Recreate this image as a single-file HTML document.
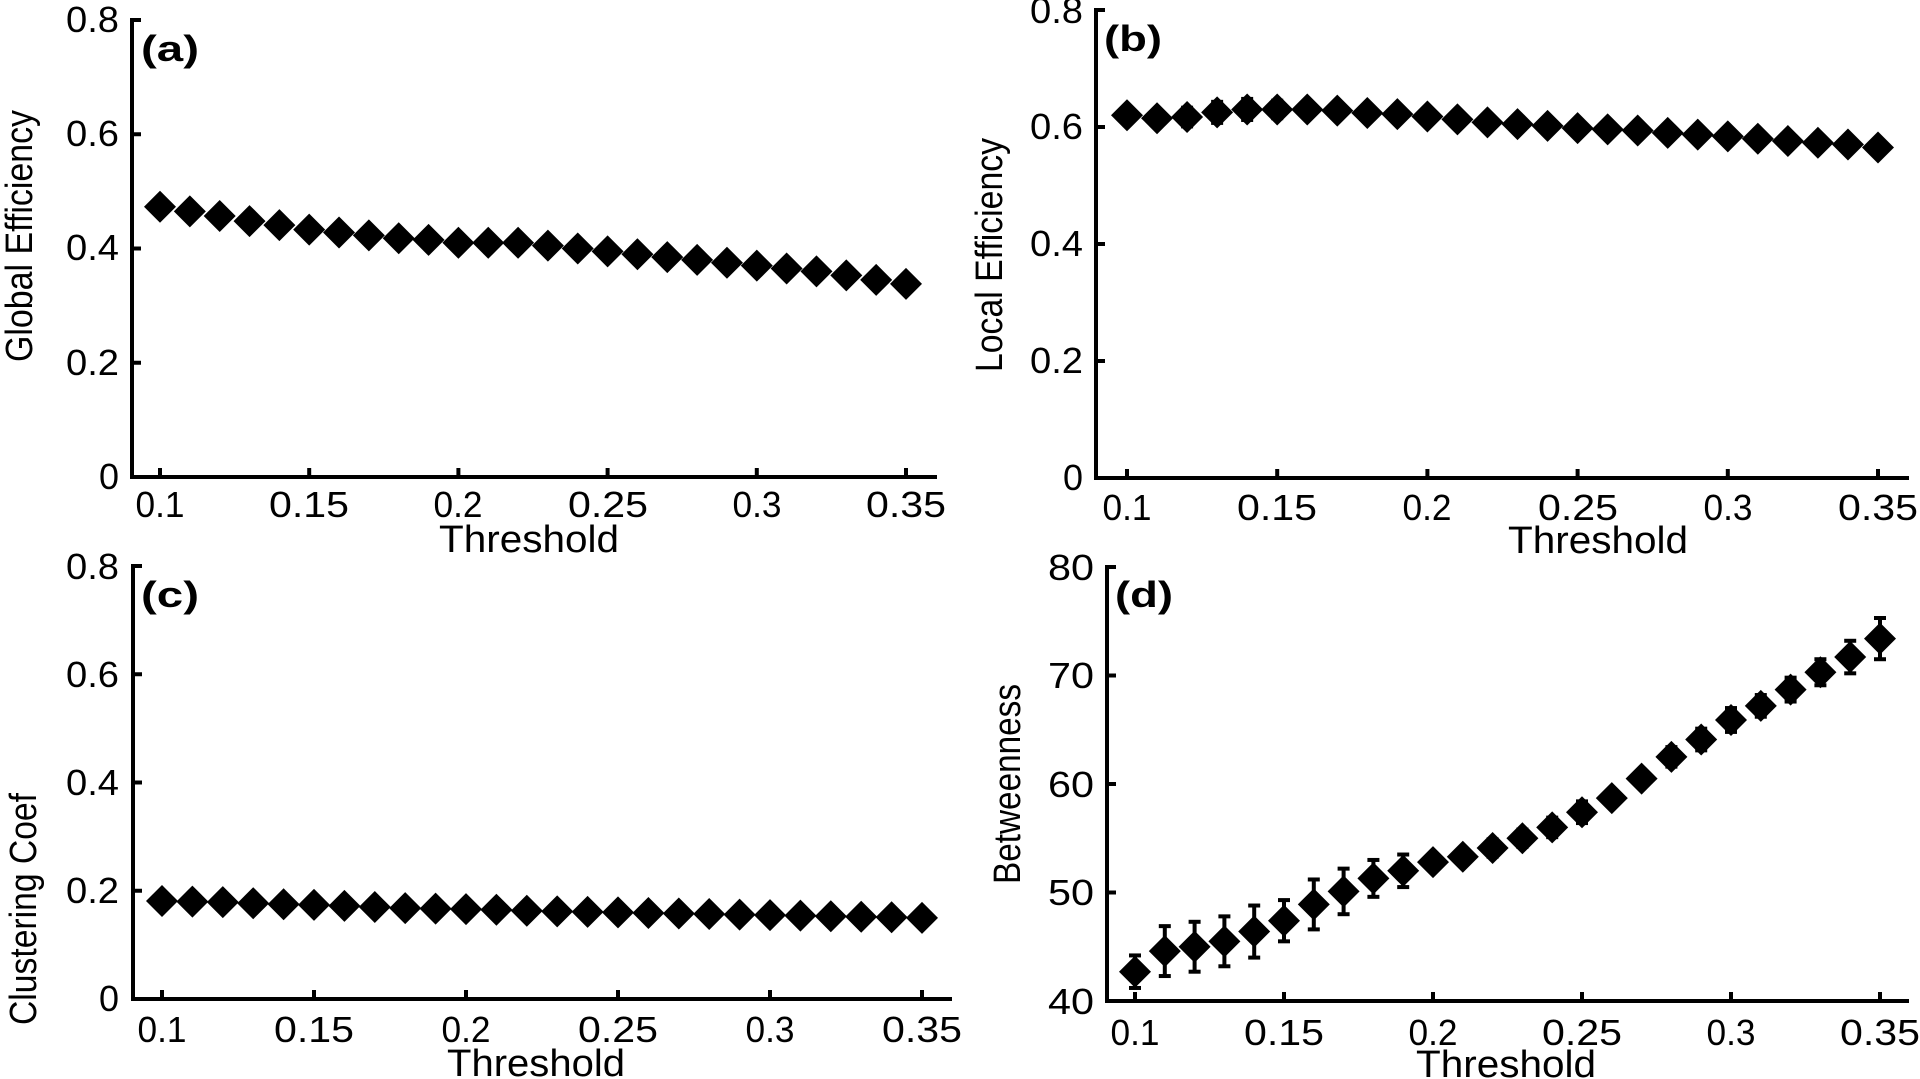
<!DOCTYPE html>
<html><head><meta charset="utf-8"><style>
html,body{margin:0;padding:0;background:#fff;}
svg{display:block;font-family:"Liberation Sans",Arial,sans-serif;}
.t{font-size:36px;}
.l{font-size:38px;}
</style></head><body>
<svg id="s" width="1920" height="1079" viewBox="0 0 1920 1079" xmlns="http://www.w3.org/2000/svg">
<g fill="#000" class="t">
<!-- Panel a -->
<text x="119" y="32" text-anchor="end" textLength="53" lengthAdjust="spacingAndGlyphs">0.8</text>
<text x="119" y="146" text-anchor="end" textLength="53" lengthAdjust="spacingAndGlyphs">0.6</text>
<text x="119" y="260" text-anchor="end" textLength="53" lengthAdjust="spacingAndGlyphs">0.4</text>
<text x="119" y="375" text-anchor="end" textLength="53" lengthAdjust="spacingAndGlyphs">0.2</text>
<text x="119" y="489" text-anchor="end" textLength="20" lengthAdjust="spacingAndGlyphs">0</text>
<text x="160" y="517" text-anchor="middle" textLength="49" lengthAdjust="spacingAndGlyphs">0.1</text>
<text x="309" y="517" text-anchor="middle" textLength="80" lengthAdjust="spacingAndGlyphs">0.15</text>
<text x="458" y="517" text-anchor="middle" textLength="49" lengthAdjust="spacingAndGlyphs">0.2</text>
<text x="608" y="517" text-anchor="middle" textLength="80" lengthAdjust="spacingAndGlyphs">0.25</text>
<text x="757" y="517" text-anchor="middle" textLength="49" lengthAdjust="spacingAndGlyphs">0.3</text>
<text x="906" y="517" text-anchor="middle" textLength="80" lengthAdjust="spacingAndGlyphs">0.35</text>
<text class="l" x="529" y="552" text-anchor="middle" textLength="180" lengthAdjust="spacingAndGlyphs">Threshold</text>
<text class="l" transform="translate(32,236) rotate(-90)" text-anchor="middle" textLength="252" lengthAdjust="spacingAndGlyphs">Global Efficiency</text>
<text x="141" y="61" font-weight="bold" font-size="36" textLength="58" lengthAdjust="spacingAndGlyphs">(a)</text>
<!-- Panel b -->
<text x="1083" y="23" text-anchor="end" textLength="53" lengthAdjust="spacingAndGlyphs">0.8</text>
<text x="1083" y="139" text-anchor="end" textLength="53" lengthAdjust="spacingAndGlyphs">0.6</text>
<text x="1083" y="256" text-anchor="end" textLength="53" lengthAdjust="spacingAndGlyphs">0.4</text>
<text x="1083" y="373" text-anchor="end" textLength="53" lengthAdjust="spacingAndGlyphs">0.2</text>
<text x="1083" y="490" text-anchor="end" textLength="20" lengthAdjust="spacingAndGlyphs">0</text>
<text x="1127" y="520" text-anchor="middle" textLength="49" lengthAdjust="spacingAndGlyphs">0.1</text>
<text x="1277" y="520" text-anchor="middle" textLength="80" lengthAdjust="spacingAndGlyphs">0.15</text>
<text x="1427" y="520" text-anchor="middle" textLength="49" lengthAdjust="spacingAndGlyphs">0.2</text>
<text x="1578" y="520" text-anchor="middle" textLength="80" lengthAdjust="spacingAndGlyphs">0.25</text>
<text x="1728" y="520" text-anchor="middle" textLength="49" lengthAdjust="spacingAndGlyphs">0.3</text>
<text x="1878" y="520" text-anchor="middle" textLength="80" lengthAdjust="spacingAndGlyphs">0.35</text>
<text class="l" x="1598" y="553" text-anchor="middle" textLength="180" lengthAdjust="spacingAndGlyphs">Threshold</text>
<text class="l" transform="translate(1002,255) rotate(-90)" text-anchor="middle" textLength="234" lengthAdjust="spacingAndGlyphs">Local Efficiency</text>
<text x="1104" y="51" font-weight="bold" font-size="36" textLength="58" lengthAdjust="spacingAndGlyphs">(b)</text>
<!-- Panel c -->
<text x="119" y="579" text-anchor="end" textLength="53" lengthAdjust="spacingAndGlyphs">0.8</text>
<text x="119" y="687" text-anchor="end" textLength="53" lengthAdjust="spacingAndGlyphs">0.6</text>
<text x="119" y="795" text-anchor="end" textLength="53" lengthAdjust="spacingAndGlyphs">0.4</text>
<text x="119" y="903" text-anchor="end" textLength="53" lengthAdjust="spacingAndGlyphs">0.2</text>
<text x="119" y="1011" text-anchor="end" textLength="20" lengthAdjust="spacingAndGlyphs">0</text>
<text x="162" y="1042" text-anchor="middle" textLength="49" lengthAdjust="spacingAndGlyphs">0.1</text>
<text x="314" y="1042" text-anchor="middle" textLength="80" lengthAdjust="spacingAndGlyphs">0.15</text>
<text x="466" y="1042" text-anchor="middle" textLength="49" lengthAdjust="spacingAndGlyphs">0.2</text>
<text x="618" y="1042" text-anchor="middle" textLength="80" lengthAdjust="spacingAndGlyphs">0.25</text>
<text x="770" y="1042" text-anchor="middle" textLength="49" lengthAdjust="spacingAndGlyphs">0.3</text>
<text x="922" y="1042" text-anchor="middle" textLength="80" lengthAdjust="spacingAndGlyphs">0.35</text>
<text class="l" x="536" y="1076" text-anchor="middle" textLength="178" lengthAdjust="spacingAndGlyphs">Threshold</text>
<text class="l" transform="translate(36,909) rotate(-90)" text-anchor="middle" textLength="232" lengthAdjust="spacingAndGlyphs">Clustering Coef</text>
<text x="141" y="607" font-weight="bold" font-size="36" textLength="58" lengthAdjust="spacingAndGlyphs">(c)</text>
<!-- Panel d -->
<text x="1094" y="580" text-anchor="end" textLength="46" lengthAdjust="spacingAndGlyphs">80</text>
<text x="1094" y="688" text-anchor="end" textLength="46" lengthAdjust="spacingAndGlyphs">70</text>
<text x="1094" y="797" text-anchor="end" textLength="46" lengthAdjust="spacingAndGlyphs">60</text>
<text x="1094" y="905" text-anchor="end" textLength="46" lengthAdjust="spacingAndGlyphs">50</text>
<text x="1094" y="1014" text-anchor="end" textLength="46" lengthAdjust="spacingAndGlyphs">40</text>
<text x="1135" y="1045" text-anchor="middle" textLength="49" lengthAdjust="spacingAndGlyphs">0.1</text>
<text x="1284" y="1045" text-anchor="middle" textLength="80" lengthAdjust="spacingAndGlyphs">0.15</text>
<text x="1433" y="1045" text-anchor="middle" textLength="49" lengthAdjust="spacingAndGlyphs">0.2</text>
<text x="1582" y="1045" text-anchor="middle" textLength="80" lengthAdjust="spacingAndGlyphs">0.25</text>
<text x="1731" y="1045" text-anchor="middle" textLength="49" lengthAdjust="spacingAndGlyphs">0.3</text>
<text x="1880" y="1045" text-anchor="middle" textLength="80" lengthAdjust="spacingAndGlyphs">0.35</text>
<text class="l" x="1506" y="1077" text-anchor="middle" textLength="180" lengthAdjust="spacingAndGlyphs">Threshold</text>
<text class="l" transform="translate(1020,784) rotate(-90)" text-anchor="middle" textLength="200" lengthAdjust="spacingAndGlyphs">Betweenness</text>
<text x="1115" y="607" font-weight="bold" font-size="36" textLength="58" lengthAdjust="spacingAndGlyphs">(d)</text>
</g>
<g id="plots"></g>
</svg>
<script>
var NS="http://www.w3.org/2000/svg",G=document.getElementById("plots");
function el(t,a){var e=document.createElementNS(NS,t);for(var k in a)e.setAttribute(k,a[k]);G.appendChild(e);return e;}
function panel(p){
  var ax=p.ax,yTop=p.yTop,y0=p.y0,x1=p.x1,x35=p.x35,xend=p.xend;
  el("line",{x1:ax,y1:yTop-2,x2:ax,y2:y0+2,stroke:"#000","stroke-width":4});
  el("line",{x1:ax-2,y1:y0,x2:xend,y2:y0,stroke:"#000","stroke-width":4});
  for(var i=0;i<=4;i++){var y=y0+(yTop-y0)*i/4;el("line",{x1:ax,y1:y,x2:ax+9,y2:y,stroke:"#000","stroke-width":4});}
  for(var i=0;i<=5;i++){var x=x1+(x35-x1)*i/5;el("line",{x1:x,y1:y0,x2:x,y2:y0-9,stroke:"#000","stroke-width":4});}
  var n=p.v.length;
  for(var i=0;i<n;i++){
    var x=x1+(x35-x1)*i/(n-1);
    var f=function(v){return y0+(yTop-y0)*(v-p.lo)/(p.hi-p.lo);};
    var y=f(p.v[i]);
    var e=p.e?p.e[i]:0;
    if(e>0){var ya=f(p.v[i]+e),yb=f(p.v[i]-e);
      el("line",{x1:x,y1:ya,x2:x,y2:yb,stroke:"#000","stroke-width":4});
      el("line",{x1:x-6,y1:ya,x2:x+6,y2:ya,stroke:"#000","stroke-width":4});
      el("line",{x1:x-6,y1:yb,x2:x+6,y2:yb,stroke:"#000","stroke-width":4});}
    el("polygon",{points:(x-16)+","+y+" "+x+","+(y-16)+" "+(x+16)+","+y+" "+x+","+(y+16),fill:"#000"});
  }
}
panel({ax:132,yTop:20,y0:477,x1:160,x35:906,xend:937,lo:0,hi:0.8,
 v:[0.473,0.465,0.457,0.448,0.441,0.433,0.428,0.423,0.418,0.415,0.41,0.41,0.41,0.405,0.40,0.395,0.39,0.385,0.38,0.375,0.37,0.365,0.36,0.353,0.345,0.338],
 e:[0,0,0,0,0,0,0,0,0.01,0.012,0.012,0.01,0,0,0,0,0,0,0,0,0,0,0,0,0,0]});
panel({ax:1096,yTop:10,y0:478,x1:1127,x35:1878,xend:1909,lo:0,hi:0.8,
 v:[0.62,0.615,0.617,0.625,0.63,0.63,0.63,0.628,0.624,0.622,0.618,0.613,0.608,0.605,0.602,0.598,0.596,0.594,0.59,0.587,0.584,0.58,0.576,0.573,0.57,0.565],
 e:[0,0.012,0.016,0.018,0.018,0.015,0,0,0,0,0,0,0,0,0,0,0,0,0,0,0,0,0,0,0,0]});
panel({ax:133,yTop:566,y0:999,x1:162,x35:922,xend:952,lo:0,hi:0.8,
 v:[0.181,0.18,0.179,0.177,0.175,0.174,0.172,0.17,0.168,0.167,0.166,0.165,0.163,0.162,0.161,0.16,0.159,0.158,0.157,0.156,0.155,0.154,0.153,0.152,0.151,0.15]});
panel({ax:1107,yTop:567,y0:1001,x1:1135,x35:1880,xend:1909,lo:40,hi:80,
 v:[42.7,44.6,45.0,45.5,46.4,47.4,48.9,50.1,51.3,52.0,52.8,53.3,54.1,55.0,56.0,57.4,58.7,60.5,62.5,64.1,65.9,67.2,68.7,70.3,71.7,73.4],
 e:[1.5,2.3,2.3,2.3,2.4,1.9,2.3,2.1,1.7,1.5,0.4,0.5,0.8,0.8,0.9,1.0,0.6,0.4,0.9,1.0,1.1,1.0,1.1,1.2,1.5,1.9]});
</script>
</body></html>
